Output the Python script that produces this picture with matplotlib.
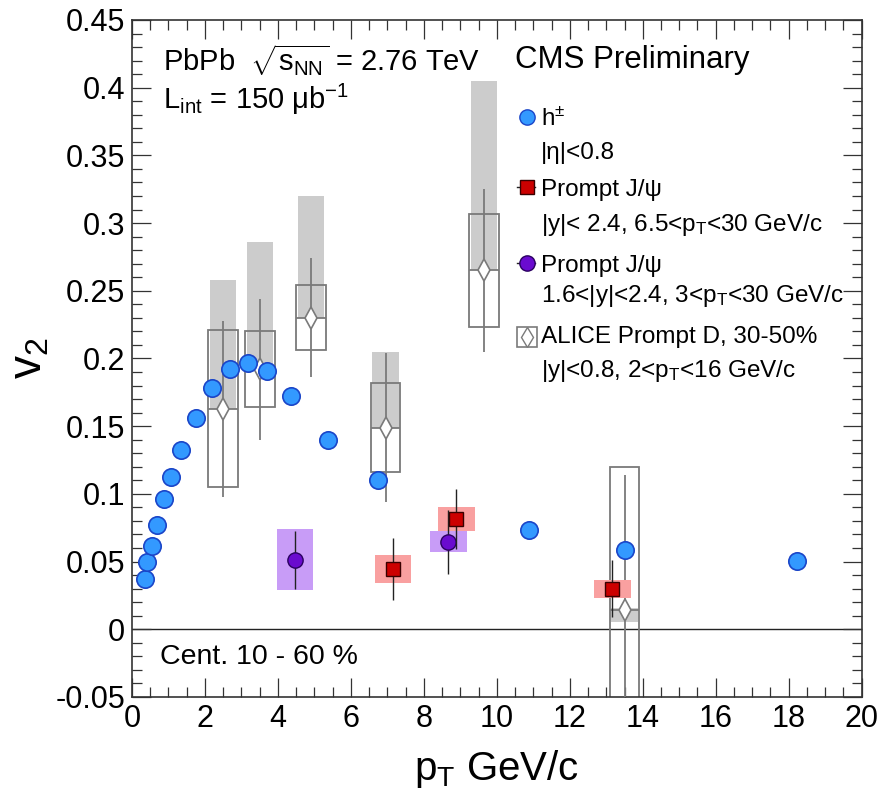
# v2 vs pT, CMS PbPb 2.76 TeV: charged hadrons, prompt J/psi, ALICE prompt D

import numpy as np
import matplotlib
matplotlib.use('Agg')
import matplotlib.pyplot as plt
from matplotlib.patches import Rectangle
from matplotlib.ticker import MultipleLocator, FormatStrFormatter

plt.rcParams['font.family'] = ['Liberation Sans', 'DejaVu Sans']
plt.rcParams['mathtext.fontset'] = 'custom'
plt.rcParams['mathtext.rm'] = 'Liberation Sans'
plt.rcParams['mathtext.it'] = 'Liberation Sans'
plt.rcParams['mathtext.sf'] = 'Liberation Sans'
plt.rcParams['axes.unicode_minus'] = False

# charged hadrons
h_pt = [0.35, 0.42, 0.55, 0.69, 0.88, 1.07, 1.34, 1.76, 2.19, 2.69, 3.18, 3.70,
        4.36, 5.38, 6.75, 10.89, 13.52, 18.24]
h_v2 = [0.037, 0.0497, 0.0615, 0.077, 0.0963, 0.1125, 0.1324, 0.156, 0.178, 0.192,
        0.197, 0.191, 0.172, 0.140, 0.110, 0.0733, 0.0585, 0.0505]

# prompt J/psi, |y|<2.4, 6.5<pT<30
jh_pt = [7.16, 8.89, 13.17]
jh_v2 = [0.0445, 0.0815, 0.0298]
jh_stat = [0.023, 0.022, 0.021]
jh_syst = [0.010, 0.009, 0.0067]

# prompt J/psi, 1.6<|y|<2.4, 3<pT<30
jl_pt = [4.47, 8.67]
jl_v2 = [0.0512, 0.0645]
jl_stat = [0.0215, 0.0235]
jl_syst = [0.0225, 0.0078]

# ALICE prompt D, 30-50%
d_pt = [2.5, 3.5, 4.9, 6.95, 9.65, 13.5]
d_v2 = [0.163, 0.192, 0.230, 0.149, 0.265, 0.014]
d_stat = [0.065, 0.052, 0.044, 0.055, 0.060, 0.100]
d_syst = [0.058, 0.028, 0.024, 0.033, 0.042, 0.106]
d_feed_up = [0.095, 0.094, 0.090, 0.056, 0.140, 0.002]
d_feed_down = [0.0, 0.0, 0.0, 0.0, 0.0, 0.009]

fig = plt.figure(figsize=(8.91, 7.99), dpi=100)
ax = fig.add_axes([0.1481, 0.1277, 0.819, 0.8473])

d_pt = np.array(d_pt)
d_v2 = np.array(d_v2)
d_syst = np.array(d_syst)
d_up = np.array(d_feed_up)
d_dn = np.array(d_feed_down)

# ALICE: feed-down band (gray), syst box (open), stat bars
ax.bar(d_pt, d_up + d_dn, bottom=d_v2 - d_dn, width=0.72, color='#cccccc',
       edgecolor='none', zorder=1)
ax.bar(d_pt, 2 * d_syst, bottom=d_v2 - d_syst, width=0.82, facecolor='none',
       edgecolor='#7a7a7a', linewidth=1.3, zorder=2)
ax.errorbar(d_pt, d_v2, yerr=d_stat, xerr=0.41, fmt='none', ecolor='#7a7a7a',
            elinewidth=1.3, capsize=0, zorder=3)
ax.plot(d_pt, d_v2, 'd', ms=11, mfc='white', mec='#7a7a7a', mew=1.2, zorder=4)

# J/psi syst boxes
jl_pt = np.array(jl_pt)
jl_v2 = np.array(jl_v2)
jl_syst = np.array(jl_syst)
ax.bar(jl_pt, 2 * jl_syst, bottom=jl_v2 - jl_syst, width=1.0, color='#c89cf7',
       edgecolor='none', zorder=5)
jh_pt = np.array(jh_pt)
jh_v2 = np.array(jh_v2)
jh_syst = np.array(jh_syst)
ax.bar(jh_pt, 2 * jh_syst, bottom=jh_v2 - jh_syst, width=1.0, color='#f9a0a0',
       edgecolor='none', zorder=5)

ax.errorbar(jl_pt, jl_v2, yerr=jl_stat, fmt='o', ms=11, mfc='#6a0bcf', mec='#2a0060',
            mew=1.0, ecolor='#222222', elinewidth=1.0, capsize=0, zorder=6)
ax.errorbar(jh_pt, jh_v2, yerr=jh_stat, fmt='s', ms=10, mfc='#cc0000', mec='#3a0000',
            mew=1.0, ecolor='#222222', elinewidth=1.0, capsize=0, zorder=7)

# charged hadrons
ax.plot(h_pt, h_v2, 'o', ms=12.5, mfc='#3399ff', mec='#1a45c8', mew=1.2, zorder=8)

ax.axhline(0, color='#222222', lw=1.0, zorder=0)

ax.set_xlim(0, 20)
ax.set_ylim(-0.05, 0.45)
ax.xaxis.set_major_locator(MultipleLocator(2))
ax.xaxis.set_minor_locator(MultipleLocator(0.5))
ax.yaxis.set_major_locator(MultipleLocator(0.05))
ax.yaxis.set_minor_locator(MultipleLocator(0.01))
ax.yaxis.set_major_formatter(FormatStrFormatter('%g'))
ax.tick_params(which='both', direction='in', top=True, right=True, color='#333333',
               width=0.9, labelsize=22)
ax.tick_params(which='major', length=14)
ax.tick_params(which='minor', length=7)
ax.tick_params(axis='x', pad=5)
ax.tick_params(axis='y', pad=5)
for s in ax.spines.values():
    s.set_linewidth(1.2)
    s.set_color('#333333')

# axis titles centred, ROOT style
ax.set_xlabel(r'p$_{\rm T}$ GeV/c', fontsize=29)
ax.xaxis.set_label_coords(0.5, -0.075, transform=ax.transAxes)
ax.xaxis.label.set_va('top')
ax.set_ylabel(r'v$_2$', fontsize=33)
ax.yaxis.set_label_coords(-0.11, 0.5)

tr = ax.transAxes
ax.text(0.0425, 0.941, r'PbPb  $\sqrt{\rm s_{NN}}$ = 2.76 TeV', transform=tr,
        fontsize=21, va='center')
ax.text(0.0425, 0.882, r'L$_{\rm int}$ = 150 $\mathrm{\mu b^{-1}}$', transform=tr,
        fontsize=21, va='center')
ax.text(0.525, 0.941, 'CMS Preliminary', transform=tr, fontsize=22.5, va='center')
ax.text(0.038, 0.059, 'Cent. 10 - 60 %', transform=tr, fontsize=20.5, va='center')

# legend
lx = 0.541
tx = 0.5605
ax.plot([lx], [0.857], 'o', ms=11, mfc='#3399ff', mec='#1a45c8', transform=tr,
        clip_on=False)
ax.plot([lx - 0.014, lx + 0.012], [0.753, 0.753], '-', color='#222222', lw=1.0,
        transform=tr)
ax.plot([lx], [0.753], 's', ms=10, mfc='#cc0000', mec='#3a0000', transform=tr)
ax.plot([lx - 0.014, lx + 0.012], [0.641, 0.641], '-', color='#222222', lw=1.0,
        transform=tr)
ax.plot([lx], [0.641], 'o', ms=11, mfc='#6a0bcf', mec='#2a0060', transform=tr)
ax.add_patch(Rectangle((lx - 0.0137, 0.532 - 0.0148), 0.0274, 0.0296, fill=False,
                       edgecolor='#7a7a7a', lw=1.2, transform=tr))
ax.plot([lx], [0.532], 'd', ms=10, mfc='white', mec='#7a7a7a', transform=tr)

labels = [
    (0.857, r'h$^{\pm}$'),
    (0.8065, '|η|<0.8'),
    (0.753, 'Prompt J/ψ'),
    (0.703, r'|y|< 2.4, 6.5<p$_{\rm T}$<30 GeV/c'),
    (0.641, 'Prompt J/ψ'),
    (0.597, r'1.6<|y|<2.4, 3<p$_{\rm T}$<30 GeV/c'),
    (0.535, 'ALICE Prompt D, 30-50%'),
    (0.487, r'|y|<0.8, 2<p$_{\rm T}$<16 GeV/c'),
]
for y, s in labels:
    ax.text(tx, y, s, transform=tr, fontsize=17.5, va='center_baseline')

fig.savefig('out.png', dpi=100)
